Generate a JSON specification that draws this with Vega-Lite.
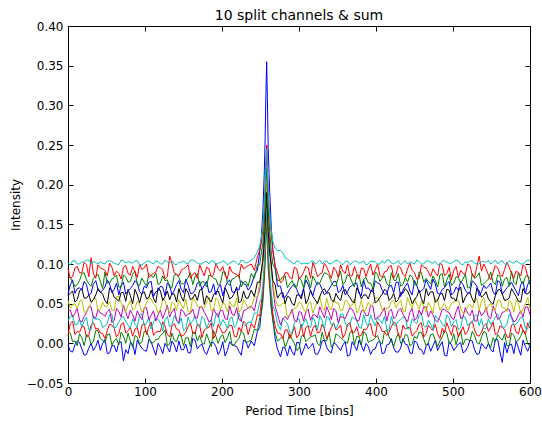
{
"$schema": "https://vega.github.io/schema/vega-lite/v6.json",
"width": 462, "height": 357,
"autosize": {"type": "none"},
"padding": {"left": 68, "top": 26, "right": 12, "bottom": 42},
"background": "white",
"title": {"text": "10 split channels & sum", "font": "DejaVu Sans", "fontSize": 14, "fontWeight": "normal", "color": "black", "offset": -3, "anchor": "middle"},
"config": {
"view": {"stroke": "black", "strokeWidth": 1},
"font": "DejaVu Sans",
"axis": {"grid": false, "domain": false, "tickColor": "black", "tickSize": -5, "tickWidth": 1, "labelFont": "DejaVu Sans", "labelFontSize": 12, "labelColor": "black", "titleFont": "DejaVu Sans", "titleFontSize": 12, "titleFontWeight": "normal", "titleColor": "black", "labelOverlap": false}
},
"data": {"values": [
{"c":"a","x":0,"y":-0.002},{"c":"a","x":6,"y":-0.011},{"c":"a","x":12,"y":0.003},{"c":"a","x":18,"y":-0.007},{"c":"a","x":24,"y":-0.014},{"c":"a","x":30,"y":0},{"c":"a","x":36,"y":-0.004},{"c":"a","x":42,"y":-0.009},{"c":"a","x":48,"y":0.005},{"c":"a","x":54,"y":-0.012},{"c":"a","x":60,"y":-0.003},{"c":"a","x":66,"y":0.001},{"c":"a","x":72,"y":-0.022},{"c":"a","x":78,"y":-0.013},{"c":"a","x":84,"y":-0.001},{"c":"a","x":90,"y":0.004},{"c":"a","x":96,"y":-0.006},{"c":"a","x":102,"y":-0.01},{"c":"a","x":108,"y":0.002},{"c":"a","x":114,"y":-0.015},{"c":"a","x":120,"y":-0.005},{"c":"a","x":126,"y":0},{"c":"a","x":132,"y":-0.011},{"c":"a","x":138,"y":-0.002},{"c":"a","x":144,"y":0.003},{"c":"a","x":150,"y":-0.008},{"c":"a","x":156,"y":-0.012},{"c":"a","x":162,"y":0.006},{"c":"a","x":168,"y":-0.007},{"c":"a","x":174,"y":-0.001},{"c":"a","x":180,"y":-0.014},{"c":"a","x":186,"y":0.001},{"c":"a","x":192,"y":-0.004},{"c":"a","x":198,"y":-0.009},{"c":"a","x":204,"y":-0.016},{"c":"a","x":210,"y":0.002},{"c":"a","x":216,"y":-0.003},{"c":"a","x":222,"y":-0.01},{"c":"a","x":228,"y":0.004},{"c":"a","x":234,"y":-0.006},
{"c":"a","x":238,"y":0.003},{"c":"a","x":242,"y":-0.003},{"c":"a","x":246,"y":0.015},{"c":"a","x":249,"y":0.02},{"c":"a","x":251,"y":0.039},{"c":"a","x":253,"y":0.058},{"c":"a","x":255,"y":0.094},{"c":"a","x":256,"y":0.12},{"c":"a","x":257,"y":0.157},{"c":"a","x":258,"y":0.185},{"c":"a","x":259,"y":0.151},{"c":"a","x":260,"y":0.113},{"c":"a","x":262,"y":0.077},{"c":"a","x":264,"y":0.045},{"c":"a","x":266,"y":0.032},{"c":"a","x":269,"y":0.006},{"c":"a","x":272,"y":-0.007},
{"c":"a","x":276,"y":-0.017},{"c":"a","x":282,"y":-0.006},{"c":"a","x":288,"y":-0.003},{"c":"a","x":294,"y":-0.015},{"c":"a","x":300,"y":0.001},{"c":"a","x":306,"y":-0.008},{"c":"a","x":312,"y":-0.007},{"c":"a","x":318,"y":0},{"c":"a","x":324,"y":-0.014},{"c":"a","x":330,"y":0.003},{"c":"a","x":336,"y":-0.005},{"c":"a","x":342,"y":-0.012},{"c":"a","x":348,"y":-0.001},{"c":"a","x":354,"y":-0.009},{"c":"a","x":360,"y":0.002},{"c":"a","x":366,"y":-0.015},{"c":"a","x":372,"y":-0.003},{"c":"a","x":378,"y":0.004},{"c":"a","x":384,"y":-0.01},{"c":"a","x":390,"y":-0.004},{"c":"a","x":396,"y":-0.008},{"c":"a","x":402,"y":0.001},{"c":"a","x":408,"y":-0.013},{"c":"a","x":414,"y":-0.002},{"c":"a","x":420,"y":0.006},{"c":"a","x":426,"y":-0.011},{"c":"a","x":432,"y":-0.006},{"c":"a","x":438,"y":-0.001},{"c":"a","x":444,"y":-0.012},{"c":"a","x":450,"y":0.003},{"c":"a","x":456,"y":-0.007},{"c":"a","x":462,"y":-0.014},{"c":"a","x":468,"y":0},{"c":"a","x":474,"y":-0.003},{"c":"a","x":480,"y":-0.009},{"c":"a","x":486,"y":0.002},{"c":"a","x":492,"y":-0.016},{"c":"a","x":498,"y":-0.002},{"c":"a","x":504,"y":-0.005},{"c":"a","x":510,"y":0.001},{"c":"a","x":516,"y":-0.01},{"c":"a","x":522,"y":0.004},{"c":"a","x":528,"y":-0.008},{"c":"a","x":534,"y":-0.013},{"c":"a","x":540,"y":-0.004},{"c":"a","x":546,"y":0},{"c":"a","x":552,"y":-0.011},{"c":"a","x":558,"y":0.005},{"c":"a","x":564,"y":-0.024},{"c":"a","x":570,"y":-0.012},{"c":"a","x":576,"y":-0.001},{"c":"a","x":582,"y":0.003},{"c":"a","x":588,"y":-0.015},{"c":"a","x":594,"y":-0.004},{"c":"a","x":600,"y":-0.002},
{"c":"a","x":3,"y":-0.01},{"c":"a","x":9,"y":-0.002},{"c":"a","x":15,"y":0.001},{"c":"a","x":21,"y":-0.015},{"c":"a","x":27,"y":-0.006},{"c":"a","x":33,"y":-0.009},{"c":"a","x":39,"y":0.004},{"c":"a","x":45,"y":0},{"c":"a","x":51,"y":-0.013},{"c":"a","x":57,"y":-0.003},{"c":"a","x":63,"y":-0.011},{"c":"a","x":69,"y":0.002},{"c":"a","x":75,"y":-0.008},{"c":"a","x":81,"y":0.001},{"c":"a","x":87,"y":-0.014},{"c":"a","x":93,"y":-0.002},{"c":"a","x":99,"y":-0.009},{"c":"a","x":105,"y":0.005},{"c":"a","x":111,"y":-0.007},{"c":"a","x":117,"y":0},{"c":"a","x":123,"y":-0.013},{"c":"a","x":129,"y":-0.005},{"c":"a","x":135,"y":0.003},{"c":"a","x":141,"y":-0.011},{"c":"a","x":147,"y":-0.008},{"c":"a","x":153,"y":-0.001},{"c":"a","x":159,"y":-0.012},{"c":"a","x":165,"y":0.004},{"c":"a","x":171,"y":-0.003},{"c":"a","x":177,"y":-0.01},{"c":"a","x":183,"y":-0.006},{"c":"a","x":189,"y":0.001},{"c":"a","x":195,"y":-0.014},{"c":"a","x":201,"y":0.002},{"c":"a","x":207,"y":-0.009},{"c":"a","x":213,"y":-0.002},{"c":"a","x":219,"y":-0.004},{"c":"a","x":225,"y":-0.015},{"c":"a","x":231,"y":0.003},
{"c":"a","x":279,"y":-0.005},{"c":"a","x":285,"y":-0.016},{"c":"a","x":291,"y":-0.011},{"c":"a","x":297,"y":0.001},{"c":"a","x":303,"y":-0.015},{"c":"a","x":309,"y":0},{"c":"a","x":315,"y":-0.004},{"c":"a","x":321,"y":-0.013},{"c":"a","x":327,"y":-0.008},{"c":"a","x":333,"y":0.004},{"c":"a","x":339,"y":-0.01},{"c":"a","x":345,"y":0.001},{"c":"a","x":351,"y":-0.005},{"c":"a","x":357,"y":-0.002},{"c":"a","x":363,"y":-0.016},{"c":"a","x":369,"y":0.002},{"c":"a","x":375,"y":-0.009},{"c":"a","x":381,"y":-0.003},{"c":"a","x":387,"y":0},{"c":"a","x":393,"y":-0.014},{"c":"a","x":399,"y":-0.007},{"c":"a","x":405,"y":0.003},{"c":"a","x":411,"y":-0.012},{"c":"a","x":417,"y":-0.001},{"c":"a","x":423,"y":-0.006},{"c":"a","x":429,"y":-0.011},{"c":"a","x":435,"y":0.006},{"c":"a","x":441,"y":-0.002},{"c":"a","x":447,"y":-0.013},{"c":"a","x":453,"y":0.001},{"c":"a","x":459,"y":-0.008},{"c":"a","x":465,"y":-0.004},{"c":"a","x":471,"y":-0.01},{"c":"a","x":477,"y":0.004},{"c":"a","x":483,"y":-0.003},{"c":"a","x":489,"y":-0.015},{"c":"a","x":495,"y":0.002},{"c":"a","x":501,"y":-0.009},{"c":"a","x":507,"y":-0.001},{"c":"a","x":513,"y":-0.012},{"c":"a","x":519,"y":-0.005},{"c":"a","x":525,"y":0.003},{"c":"a","x":531,"y":-0.014},{"c":"a","x":537,"y":0},{"c":"a","x":543,"y":-0.007},{"c":"a","x":549,"y":-0.008},{"c":"a","x":555,"y":0.005},{"c":"a","x":561,"y":-0.011},{"c":"a","x":567,"y":0.001},{"c":"a","x":573,"y":-0.002},{"c":"a","x":579,"y":-0.013},{"c":"a","x":585,"y":-0.006},{"c":"a","x":591,"y":0.004},{"c":"a","x":597,"y":-0.01},
{"c":"b","x":0,"y":0.014},{"c":"b","x":6,"y":0.002},{"c":"b","x":12,"y":-0.003},{"c":"b","x":18,"y":0.007},{"c":"b","x":24,"y":0.011},{"c":"b","x":30,"y":-0.001},{"c":"b","x":36,"y":0.016},{"c":"b","x":42,"y":0.006},{"c":"b","x":48,"y":0.001},{"c":"b","x":54,"y":0.012},{"c":"b","x":60,"y":0.003},{"c":"b","x":66,"y":-0.002},{"c":"b","x":72,"y":0.009},{"c":"b","x":78,"y":0.013},{"c":"b","x":84,"y":-0.005},{"c":"b","x":90,"y":0.008},{"c":"b","x":96,"y":0.002},{"c":"b","x":102,"y":0.015},{"c":"b","x":108,"y":0},{"c":"b","x":114,"y":0.005},{"c":"b","x":120,"y":0.01},{"c":"b","x":126,"y":0.017},{"c":"b","x":132,"y":-0.001},{"c":"b","x":138,"y":0.004},{"c":"b","x":144,"y":0.011},{"c":"b","x":150,"y":-0.003},{"c":"b","x":156,"y":0.007},{"c":"b","x":162,"y":0.014},{"c":"b","x":168,"y":0.003},{"c":"b","x":174,"y":0},{"c":"b","x":180,"y":0.012},{"c":"b","x":186,"y":-0.004},{"c":"b","x":192,"y":0.009},{"c":"b","x":198,"y":0.008},{"c":"b","x":204,"y":0.001},{"c":"b","x":210,"y":0.015},{"c":"b","x":216,"y":-0.002},{"c":"b","x":222,"y":0.006},{"c":"b","x":228,"y":0.013},{"c":"b","x":234,"y":0.002},
{"c":"b","x":238,"y":0.004},{"c":"b","x":242,"y":0.018},{"c":"b","x":246,"y":0.016},{"c":"b","x":249,"y":0.032},{"c":"b","x":251,"y":0.038},{"c":"b","x":253,"y":0.052},{"c":"b","x":255,"y":0.081},{"c":"b","x":256,"y":0.101},{"c":"b","x":257,"y":0.128},{"c":"b","x":258,"y":0.15},{"c":"b","x":259,"y":0.124},{"c":"b","x":260,"y":0.095},{"c":"b","x":262,"y":0.069},{"c":"b","x":264,"y":0.044},{"c":"b","x":266,"y":0.028},{"c":"b","x":269,"y":0.013},{"c":"b","x":272,"y":0.003},
{"c":"b","x":276,"y":0.006},{"c":"b","x":282,"y":-0.005},{"c":"b","x":288,"y":0.012},{"c":"b","x":294,"y":0},{"c":"b","x":300,"y":-0.007},{"c":"b","x":306,"y":0.011},{"c":"b","x":312,"y":0.005},{"c":"b","x":318,"y":0.009},{"c":"b","x":324,"y":0},{"c":"b","x":330,"y":0.014},{"c":"b","x":336,"y":0.003},{"c":"b","x":342,"y":-0.005},{"c":"b","x":348,"y":0.012},{"c":"b","x":354,"y":0.007},{"c":"b","x":360,"y":0.002},{"c":"b","x":366,"y":0.013},{"c":"b","x":372,"y":-0.002},{"c":"b","x":378,"y":0.008},{"c":"b","x":384,"y":0.015},{"c":"b","x":390,"y":0.001},{"c":"b","x":396,"y":0.004},{"c":"b","x":402,"y":0.01},{"c":"b","x":408,"y":-0.001},{"c":"b","x":414,"y":0.017},{"c":"b","x":420,"y":0.003},{"c":"b","x":426,"y":0.006},{"c":"b","x":432,"y":0},{"c":"b","x":438,"y":0.011},{"c":"b","x":444,"y":-0.003},{"c":"b","x":450,"y":0.009},{"c":"b","x":456,"y":0.014},{"c":"b","x":462,"y":0.005},{"c":"b","x":468,"y":0.001},{"c":"b","x":474,"y":0.012},{"c":"b","x":480,"y":-0.004},{"c":"b","x":486,"y":0.008},{"c":"b","x":492,"y":0.013},{"c":"b","x":498,"y":0.002},{"c":"b","x":504,"y":-0.002},{"c":"b","x":510,"y":0.016},{"c":"b","x":516,"y":0.005},{"c":"b","x":522,"y":0.003},{"c":"b","x":528,"y":0.01},{"c":"b","x":534,"y":-0.001},{"c":"b","x":540,"y":0.015},{"c":"b","x":546,"y":0},{"c":"b","x":552,"y":0.007},{"c":"b","x":558,"y":0.011},{"c":"b","x":564,"y":0.004},{"c":"b","x":570,"y":-0.003},{"c":"b","x":576,"y":0.013},{"c":"b","x":582,"y":0.002},{"c":"b","x":588,"y":0.009},{"c":"b","x":594,"y":0.012},{"c":"b","x":600,"y":-0.002},
{"c":"b","x":3,"y":0.013},{"c":"b","x":9,"y":0.003},{"c":"b","x":15,"y":0.012},{"c":"b","x":21,"y":-0.003},{"c":"b","x":27,"y":0.009},{"c":"b","x":33,"y":0.002},{"c":"b","x":39,"y":0.016},{"c":"b","x":45,"y":0.004},{"c":"b","x":51,"y":0.011},{"c":"b","x":57,"y":-0.002},{"c":"b","x":63,"y":0.006},{"c":"b","x":69,"y":0.014},{"c":"b","x":75,"y":0},{"c":"b","x":81,"y":0.003},{"c":"b","x":87,"y":0.01},{"c":"b","x":93,"y":-0.001},{"c":"b","x":99,"y":0.015},{"c":"b","x":105,"y":0.008},{"c":"b","x":111,"y":0.001},{"c":"b","x":117,"y":0.005},{"c":"b","x":123,"y":0.012},{"c":"b","x":129,"y":-0.003},{"c":"b","x":135,"y":0.013},{"c":"b","x":141,"y":0.002},{"c":"b","x":147,"y":0.009},{"c":"b","x":153,"y":0.007},{"c":"b","x":159,"y":-0.004},{"c":"b","x":165,"y":0.014},{"c":"b","x":171,"y":0.01},{"c":"b","x":177,"y":-0.001},{"c":"b","x":183,"y":0.004},{"c":"b","x":189,"y":0.016},{"c":"b","x":195,"y":0},{"c":"b","x":201,"y":0.011},{"c":"b","x":207,"y":0.007},{"c":"b","x":213,"y":-0.002},{"c":"b","x":219,"y":0.003},{"c":"b","x":225,"y":0.015},{"c":"b","x":231,"y":0.001},
{"c":"b","x":279,"y":0.008},{"c":"b","x":285,"y":0.002},{"c":"b","x":291,"y":0.005},{"c":"b","x":297,"y":-0.009},{"c":"b","x":303,"y":0.009},{"c":"b","x":309,"y":0.002},{"c":"b","x":315,"y":0.008},{"c":"b","x":321,"y":0.011},{"c":"b","x":327,"y":-0.003},{"c":"b","x":333,"y":0.004},{"c":"b","x":339,"y":0.014},{"c":"b","x":345,"y":-0.001},{"c":"b","x":351,"y":0.01},{"c":"b","x":357,"y":0.005},{"c":"b","x":363,"y":0},{"c":"b","x":369,"y":0.017},{"c":"b","x":375,"y":0.009},{"c":"b","x":381,"y":-0.002},{"c":"b","x":387,"y":0.012},{"c":"b","x":393,"y":0.003},{"c":"b","x":399,"y":0.007},{"c":"b","x":405,"y":0.001},{"c":"b","x":411,"y":0.015},{"c":"b","x":417,"y":0.008},{"c":"b","x":423,"y":-0.004},{"c":"b","x":429,"y":0.013},{"c":"b","x":435,"y":0.002},{"c":"b","x":441,"y":0.01},{"c":"b","x":447,"y":-0.001},{"c":"b","x":453,"y":0.006},{"c":"b","x":459,"y":0.014},{"c":"b","x":465,"y":-0.003},{"c":"b","x":471,"y":0.011},{"c":"b","x":477,"y":0.004},{"c":"b","x":483,"y":0.003},{"c":"b","x":489,"y":0.016},{"c":"b","x":495,"y":0},{"c":"b","x":501,"y":0.012},{"c":"b","x":507,"y":0.009},{"c":"b","x":513,"y":-0.002},{"c":"b","x":519,"y":0.005},{"c":"b","x":525,"y":0.015},{"c":"b","x":531,"y":0.001},{"c":"b","x":537,"y":0.008},{"c":"b","x":543,"y":0.013},{"c":"b","x":549,"y":-0.005},{"c":"b","x":555,"y":0.002},{"c":"b","x":561,"y":0.007},{"c":"b","x":567,"y":0.012},{"c":"b","x":573,"y":-0.003},{"c":"b","x":579,"y":0.01},{"c":"b","x":585,"y":0.004},{"c":"b","x":591,"y":0.017},{"c":"b","x":597,"y":-0.001},
{"c":"c","x":0,"y":0.01},{"c":"c","x":6,"y":0.028},{"c":"c","x":12,"y":0.015},{"c":"c","x":18,"y":0.021},{"c":"c","x":24,"y":0.008},{"c":"c","x":30,"y":0.023},{"c":"c","x":36,"y":0.018},{"c":"c","x":42,"y":0.013},{"c":"c","x":48,"y":0.006},{"c":"c","x":54,"y":0.024},{"c":"c","x":60,"y":0.019},{"c":"c","x":66,"y":0.012},{"c":"c","x":72,"y":0.026},{"c":"c","x":78,"y":0.016},{"c":"c","x":84,"y":0.009},{"c":"c","x":90,"y":0.02},{"c":"c","x":96,"y":0.023},{"c":"c","x":102,"y":0.011},{"c":"c","x":108,"y":0.027},{"c":"c","x":114,"y":0.014},{"c":"c","x":120,"y":0.015},{"c":"c","x":126,"y":0.022},{"c":"c","x":132,"y":0.008},{"c":"c","x":138,"y":0.025},{"c":"c","x":144,"y":0.017},{"c":"c","x":150,"y":0.01},{"c":"c","x":156,"y":0.021},{"c":"c","x":162,"y":0.013},{"c":"c","x":168,"y":0.024},{"c":"c","x":174,"y":0.007},{"c":"c","x":180,"y":0.019},{"c":"c","x":186,"y":0.026},{"c":"c","x":192,"y":0.012},{"c":"c","x":198,"y":0.018},{"c":"c","x":204,"y":0.014},{"c":"c","x":210,"y":0.023},{"c":"c","x":216,"y":0.009},{"c":"c","x":222,"y":0.02},{"c":"c","x":228,"y":0.028},{"c":"c","x":234,"y":0.011},
{"c":"c","x":238,"y":0.025},{"c":"c","x":242,"y":0.019},{"c":"c","x":246,"y":0.036},{"c":"c","x":249,"y":0.035},{"c":"c","x":251,"y":0.051},{"c":"c","x":253,"y":0.064},{"c":"c","x":255,"y":0.091},{"c":"c","x":256,"y":0.111},{"c":"c","x":257,"y":0.139},{"c":"c","x":258,"y":0.16},{"c":"c","x":259,"y":0.134},{"c":"c","x":260,"y":0.106},{"c":"c","x":262,"y":0.075},{"c":"c","x":264,"y":0.06},{"c":"c","x":266,"y":0.038},{"c":"c","x":269,"y":0.022},{"c":"c","x":272,"y":0.013},
{"c":"c","x":276,"y":0.012},{"c":"c","x":282,"y":0.017},{"c":"c","x":288,"y":0.006},{"c":"c","x":294,"y":0.021},{"c":"c","x":300,"y":0.011},{"c":"c","x":306,"y":0.008},{"c":"c","x":312,"y":0.022},{"c":"c","x":318,"y":0.019},{"c":"c","x":324,"y":0.013},{"c":"c","x":330,"y":0.024},{"c":"c","x":336,"y":0.006},{"c":"c","x":342,"y":0.02},{"c":"c","x":348,"y":0.017},{"c":"c","x":354,"y":0.023},{"c":"c","x":360,"y":0.012},{"c":"c","x":366,"y":0.026},{"c":"c","x":372,"y":0.014},{"c":"c","x":378,"y":0.009},{"c":"c","x":384,"y":0.018},{"c":"c","x":390,"y":0.022},{"c":"c","x":396,"y":0.011},{"c":"c","x":402,"y":0.027},{"c":"c","x":408,"y":0.015},{"c":"c","x":414,"y":0.01},{"c":"c","x":420,"y":0.021},{"c":"c","x":426,"y":0.025},{"c":"c","x":432,"y":0.007},{"c":"c","x":438,"y":0.018},{"c":"c","x":444,"y":0.02},{"c":"c","x":450,"y":0.013},{"c":"c","x":456,"y":0.024},{"c":"c","x":462,"y":0.008},{"c":"c","x":468,"y":0.023},{"c":"c","x":474,"y":0.016},{"c":"c","x":480,"y":0.012},{"c":"c","x":486,"y":0.019},{"c":"c","x":492,"y":0.026},{"c":"c","x":498,"y":0.01},{"c":"c","x":504,"y":0.021},{"c":"c","x":510,"y":0.014},{"c":"c","x":516,"y":0.011},{"c":"c","x":522,"y":0.025},{"c":"c","x":528,"y":0.017},{"c":"c","x":534,"y":0.009},{"c":"c","x":540,"y":0.022},{"c":"c","x":546,"y":0.015},{"c":"c","x":552,"y":0.027},{"c":"c","x":558,"y":0.013},{"c":"c","x":564,"y":0.02},{"c":"c","x":570,"y":0.008},{"c":"c","x":576,"y":0.023},{"c":"c","x":582,"y":0.014},{"c":"c","x":588,"y":0.024},{"c":"c","x":594,"y":0.011},{"c":"c","x":600,"y":0.019},
{"c":"c","x":3,"y":0.025},{"c":"c","x":9,"y":0.011},{"c":"c","x":15,"y":0.014},{"c":"c","x":21,"y":0.021},{"c":"c","x":27,"y":0.01},{"c":"c","x":33,"y":0.026},{"c":"c","x":39,"y":0.019},{"c":"c","x":45,"y":0.012},{"c":"c","x":51,"y":0.016},{"c":"c","x":57,"y":0.023},{"c":"c","x":63,"y":0.008},{"c":"c","x":69,"y":0.024},{"c":"c","x":75,"y":0.013},{"c":"c","x":81,"y":0.02},{"c":"c","x":87,"y":0.018},{"c":"c","x":93,"y":0.007},{"c":"c","x":99,"y":0.025},{"c":"c","x":105,"y":0.021},{"c":"c","x":111,"y":0.01},{"c":"c","x":117,"y":0.015},{"c":"c","x":123,"y":0.027},{"c":"c","x":129,"y":0.011},{"c":"c","x":135,"y":0.022},{"c":"c","x":141,"y":0.018},{"c":"c","x":147,"y":0.009},{"c":"c","x":153,"y":0.014},{"c":"c","x":159,"y":0.026},{"c":"c","x":165,"y":0.012},{"c":"c","x":171,"y":0.023},{"c":"c","x":177,"y":0.017},{"c":"c","x":183,"y":0.02},{"c":"c","x":189,"y":0.006},{"c":"c","x":195,"y":0.024},{"c":"c","x":201,"y":0.013},{"c":"c","x":207,"y":0.019},{"c":"c","x":213,"y":0.022},{"c":"c","x":219,"y":0.008},{"c":"c","x":225,"y":0.015},{"c":"c","x":231,"y":0.025},
{"c":"c","x":279,"y":0.006},{"c":"c","x":285,"y":0.017},{"c":"c","x":291,"y":0.012},{"c":"c","x":297,"y":0.007},{"c":"c","x":303,"y":0.024},{"c":"c","x":309,"y":0.02},{"c":"c","x":315,"y":0.009},{"c":"c","x":321,"y":0.023},{"c":"c","x":327,"y":0.014},{"c":"c","x":333,"y":0.018},{"c":"c","x":339,"y":0.012},{"c":"c","x":345,"y":0.026},{"c":"c","x":351,"y":0.019},{"c":"c","x":357,"y":0.007},{"c":"c","x":363,"y":0.024},{"c":"c","x":369,"y":0.013},{"c":"c","x":375,"y":0.021},{"c":"c","x":381,"y":0.01},{"c":"c","x":387,"y":0.017},{"c":"c","x":393,"y":0.025},{"c":"c","x":399,"y":0.008},{"c":"c","x":405,"y":0.022},{"c":"c","x":411,"y":0.015},{"c":"c","x":417,"y":0.014},{"c":"c","x":423,"y":0.027},{"c":"c","x":429,"y":0.011},{"c":"c","x":435,"y":0.023},{"c":"c","x":441,"y":0.02},{"c":"c","x":447,"y":0.009},{"c":"c","x":453,"y":0.016},{"c":"c","x":459,"y":0.026},{"c":"c","x":465,"y":0.012},{"c":"c","x":471,"y":0.019},{"c":"c","x":477,"y":0.024},{"c":"c","x":483,"y":0.006},{"c":"c","x":489,"y":0.013},{"c":"c","x":495,"y":0.018},{"c":"c","x":501,"y":0.023},{"c":"c","x":507,"y":0.008},{"c":"c","x":513,"y":0.021},{"c":"c","x":519,"y":0.015},{"c":"c","x":525,"y":0.028},{"c":"c","x":531,"y":0.01},{"c":"c","x":537,"y":0.014},{"c":"c","x":543,"y":0.025},{"c":"c","x":549,"y":0.02},{"c":"c","x":555,"y":0.011},{"c":"c","x":561,"y":0.022},{"c":"c","x":567,"y":0.017},{"c":"c","x":573,"y":0.007},{"c":"c","x":579,"y":0.024},{"c":"c","x":585,"y":0.012},{"c":"c","x":591,"y":0.016},{"c":"c","x":597,"y":0.026},
{"c":"d","x":0,"y":0.028},{"c":"d","x":6,"y":0.035},{"c":"d","x":12,"y":0.024},{"c":"d","x":18,"y":0.021},{"c":"d","x":24,"y":0.033},{"c":"d","x":30,"y":0.017},{"c":"d","x":36,"y":0.03},{"c":"d","x":42,"y":0.029},{"c":"d","x":48,"y":0.022},{"c":"d","x":54,"y":0.036},{"c":"d","x":60,"y":0.019},{"c":"d","x":66,"y":0.027},{"c":"d","x":72,"y":0.034},{"c":"d","x":78,"y":0.023},{"c":"d","x":84,"y":0.031},{"c":"d","x":90,"y":0.02},{"c":"d","x":96,"y":0.037},{"c":"d","x":102,"y":0.025},{"c":"d","x":108,"y":0.018},{"c":"d","x":114,"y":0.032},{"c":"d","x":120,"y":0.026},{"c":"d","x":126,"y":0.03},{"c":"d","x":132,"y":0.021},{"c":"d","x":138,"y":0.035},{"c":"d","x":144,"y":0.024},{"c":"d","x":150,"y":0.016},{"c":"d","x":156,"y":0.033},{"c":"d","x":162,"y":0.028},{"c":"d","x":168,"y":0.023},{"c":"d","x":174,"y":0.034},{"c":"d","x":180,"y":0.019},{"c":"d","x":186,"y":0.029},{"c":"d","x":192,"y":0.036},{"c":"d","x":198,"y":0.022},{"c":"d","x":204,"y":0.025},{"c":"d","x":210,"y":0.031},{"c":"d","x":216,"y":0.02},{"c":"d","x":222,"y":0.038},{"c":"d","x":228,"y":0.024},{"c":"d","x":234,"y":0.027},
{"c":"d","x":238,"y":0.026},{"c":"d","x":242,"y":0.038},{"c":"d","x":246,"y":0.038},{"c":"d","x":249,"y":0.052},{"c":"d","x":251,"y":0.056},{"c":"d","x":253,"y":0.074},{"c":"d","x":255,"y":0.101},{"c":"d","x":256,"y":0.121},{"c":"d","x":257,"y":0.149},{"c":"d","x":258,"y":0.17},{"c":"d","x":259,"y":0.144},{"c":"d","x":260,"y":0.116},{"c":"d","x":262,"y":0.089},{"c":"d","x":264,"y":0.064},{"c":"d","x":266,"y":0.047},{"c":"d","x":269,"y":0.04},{"c":"d","x":272,"y":0.025},
{"c":"d","x":276,"y":0.017},{"c":"d","x":282,"y":0.028},{"c":"d","x":288,"y":0.014},{"c":"d","x":294,"y":0.026},{"c":"d","x":300,"y":0.031},{"c":"d","x":306,"y":0.026},{"c":"d","x":312,"y":0.022},{"c":"d","x":318,"y":0.033},{"c":"d","x":324,"y":0.017},{"c":"d","x":330,"y":0.029},{"c":"d","x":336,"y":0.034},{"c":"d","x":342,"y":0.023},{"c":"d","x":348,"y":0.019},{"c":"d","x":354,"y":0.037},{"c":"d","x":360,"y":0.026},{"c":"d","x":366,"y":0.024},{"c":"d","x":372,"y":0.031},{"c":"d","x":378,"y":0.02},{"c":"d","x":384,"y":0.036},{"c":"d","x":390,"y":0.021},{"c":"d","x":396,"y":0.028},{"c":"d","x":402,"y":0.032},{"c":"d","x":408,"y":0.025},{"c":"d","x":414,"y":0.018},{"c":"d","x":420,"y":0.034},{"c":"d","x":426,"y":0.023},{"c":"d","x":432,"y":0.03},{"c":"d","x":438,"y":0.033},{"c":"d","x":444,"y":0.019},{"c":"d","x":450,"y":0.027},{"c":"d","x":456,"y":0.035},{"c":"d","x":462,"y":0.022},{"c":"d","x":468,"y":0.029},{"c":"d","x":474,"y":0.017},{"c":"d","x":480,"y":0.031},{"c":"d","x":486,"y":0.024},{"c":"d","x":492,"y":0.036},{"c":"d","x":498,"y":0.021},{"c":"d","x":504,"y":0.03},{"c":"d","x":510,"y":0.02},{"c":"d","x":516,"y":0.033},{"c":"d","x":522,"y":0.025},{"c":"d","x":528,"y":0.035},{"c":"d","x":534,"y":0.022},{"c":"d","x":540,"y":0.018},{"c":"d","x":546,"y":0.031},{"c":"d","x":552,"y":0.028},{"c":"d","x":558,"y":0.037},{"c":"d","x":564,"y":0.021},{"c":"d","x":570,"y":0.024},{"c":"d","x":576,"y":0.032},{"c":"d","x":582,"y":0.024},{"c":"d","x":588,"y":0.033},{"c":"d","x":594,"y":0.019},{"c":"d","x":600,"y":0.029},
{"c":"d","x":3,"y":0.034},{"c":"d","x":9,"y":0.023},{"c":"d","x":15,"y":0.03},{"c":"d","x":21,"y":0.028},{"c":"d","x":27,"y":0.017},{"c":"d","x":33,"y":0.035},{"c":"d","x":39,"y":0.031},{"c":"d","x":45,"y":0.02},{"c":"d","x":51,"y":0.025},{"c":"d","x":57,"y":0.037},{"c":"d","x":63,"y":0.021},{"c":"d","x":69,"y":0.032},{"c":"d","x":75,"y":0.028},{"c":"d","x":81,"y":0.019},{"c":"d","x":87,"y":0.024},{"c":"d","x":93,"y":0.036},{"c":"d","x":99,"y":0.022},{"c":"d","x":105,"y":0.033},{"c":"d","x":111,"y":0.027},{"c":"d","x":117,"y":0.03},{"c":"d","x":123,"y":0.016},{"c":"d","x":129,"y":0.034},{"c":"d","x":135,"y":0.023},{"c":"d","x":141,"y":0.029},{"c":"d","x":147,"y":0.032},{"c":"d","x":153,"y":0.018},{"c":"d","x":159,"y":0.025},{"c":"d","x":165,"y":0.035},{"c":"d","x":171,"y":0.02},{"c":"d","x":177,"y":0.031},{"c":"d","x":183,"y":0.026},{"c":"d","x":189,"y":0.021},{"c":"d","x":195,"y":0.038},{"c":"d","x":201,"y":0.03},{"c":"d","x":207,"y":0.019},{"c":"d","x":213,"y":0.033},{"c":"d","x":219,"y":0.024},{"c":"d","x":225,"y":0.028},{"c":"d","x":231,"y":0.022},
{"c":"d","x":279,"y":0.032},{"c":"d","x":285,"y":0.025},{"c":"d","x":291,"y":0.013},{"c":"d","x":297,"y":0.03},{"c":"d","x":303,"y":0.019},{"c":"d","x":309,"y":0.031},{"c":"d","x":315,"y":0.02},{"c":"d","x":321,"y":0.027},{"c":"d","x":327,"y":0.035},{"c":"d","x":333,"y":0.018},{"c":"d","x":339,"y":0.032},{"c":"d","x":345,"y":0.025},{"c":"d","x":351,"y":0.024},{"c":"d","x":357,"y":0.037},{"c":"d","x":363,"y":0.021},{"c":"d","x":369,"y":0.033},{"c":"d","x":375,"y":0.03},{"c":"d","x":381,"y":0.019},{"c":"d","x":387,"y":0.026},{"c":"d","x":393,"y":0.036},{"c":"d","x":399,"y":0.022},{"c":"d","x":405,"y":0.029},{"c":"d","x":411,"y":0.034},{"c":"d","x":417,"y":0.016},{"c":"d","x":423,"y":0.023},{"c":"d","x":429,"y":0.028},{"c":"d","x":435,"y":0.033},{"c":"d","x":441,"y":0.018},{"c":"d","x":447,"y":0.031},{"c":"d","x":453,"y":0.025},{"c":"d","x":459,"y":0.038},{"c":"d","x":465,"y":0.02},{"c":"d","x":471,"y":0.024},{"c":"d","x":477,"y":0.035},{"c":"d","x":483,"y":0.03},{"c":"d","x":489,"y":0.021},{"c":"d","x":495,"y":0.032},{"c":"d","x":501,"y":0.027},{"c":"d","x":507,"y":0.017},{"c":"d","x":513,"y":0.034},{"c":"d","x":519,"y":0.022},{"c":"d","x":525,"y":0.026},{"c":"d","x":531,"y":0.036},{"c":"d","x":537,"y":0.031},{"c":"d","x":543,"y":0.019},{"c":"d","x":549,"y":0.024},{"c":"d","x":555,"y":0.033},{"c":"d","x":561,"y":0.029},{"c":"d","x":567,"y":0.02},{"c":"d","x":573,"y":0.037},{"c":"d","x":579,"y":0.023},{"c":"d","x":585,"y":0.028},{"c":"d","x":591,"y":0.032},{"c":"d","x":597,"y":0.018},
{"c":"e","x":0,"y":0.041},{"c":"e","x":6,"y":0.033},{"c":"e","x":12,"y":0.044},{"c":"e","x":18,"y":0.027},{"c":"e","x":24,"y":0.039},{"c":"e","x":30,"y":0.046},{"c":"e","x":36,"y":0.032},{"c":"e","x":42,"y":0.038},{"c":"e","x":48,"y":0.034},{"c":"e","x":54,"y":0.043},{"c":"e","x":60,"y":0.029},{"c":"e","x":66,"y":0.04},{"c":"e","x":72,"y":0.048},{"c":"e","x":78,"y":0.031},{"c":"e","x":84,"y":0.036},{"c":"e","x":90,"y":0.041},{"c":"e","x":96,"y":0.03},{"c":"e","x":102,"y":0.045},{"c":"e","x":108,"y":0.035},{"c":"e","x":114,"y":0.028},{"c":"e","x":120,"y":0.042},{"c":"e","x":126,"y":0.039},{"c":"e","x":132,"y":0.033},{"c":"e","x":138,"y":0.044},{"c":"e","x":144,"y":0.026},{"c":"e","x":150,"y":0.04},{"c":"e","x":156,"y":0.037},{"c":"e","x":162,"y":0.043},{"c":"e","x":168,"y":0.032},{"c":"e","x":174,"y":0.046},{"c":"e","x":180,"y":0.034},{"c":"e","x":186,"y":0.029},{"c":"e","x":192,"y":0.038},{"c":"e","x":198,"y":0.042},{"c":"e","x":204,"y":0.031},{"c":"e","x":210,"y":0.047},{"c":"e","x":216,"y":0.035},{"c":"e","x":222,"y":0.03},{"c":"e","x":228,"y":0.041},{"c":"e","x":234,"y":0.045},
{"c":"e","x":238,"y":0.047},{"c":"e","x":242,"y":0.041},{"c":"e","x":246,"y":0.059},{"c":"e","x":249,"y":0.067},{"c":"e","x":251,"y":0.088},{"c":"e","x":253,"y":0.107},{"c":"e","x":255,"y":0.148},{"c":"e","x":256,"y":0.178},{"c":"e","x":257,"y":0.218},{"c":"e","x":258,"y":0.25},{"c":"e","x":259,"y":0.212},{"c":"e","x":260,"y":0.169},{"c":"e","x":262,"y":0.123},{"c":"e","x":264,"y":0.099},{"c":"e","x":266,"y":0.071},{"c":"e","x":269,"y":0.047},{"c":"e","x":272,"y":0.037},
{"c":"e","x":276,"y":0.023},{"c":"e","x":282,"y":0.034},{"c":"e","x":288,"y":0.036},{"c":"e","x":294,"y":0.029},{"c":"e","x":300,"y":0.04},{"c":"e","x":306,"y":0.028},{"c":"e","x":312,"y":0.043},{"c":"e","x":318,"y":0.036},{"c":"e","x":324,"y":0.032},{"c":"e","x":330,"y":0.039},{"c":"e","x":336,"y":0.046},{"c":"e","x":342,"y":0.03},{"c":"e","x":348,"y":0.041},{"c":"e","x":354,"y":0.034},{"c":"e","x":360,"y":0.031},{"c":"e","x":366,"y":0.045},{"c":"e","x":372,"y":0.037},{"c":"e","x":378,"y":0.029},{"c":"e","x":384,"y":0.042},{"c":"e","x":390,"y":0.035},{"c":"e","x":396,"y":0.047},{"c":"e","x":402,"y":0.033},{"c":"e","x":408,"y":0.04},{"c":"e","x":414,"y":0.028},{"c":"e","x":420,"y":0.043},{"c":"e","x":426,"y":0.034},{"c":"e","x":432,"y":0.044},{"c":"e","x":438,"y":0.031},{"c":"e","x":444,"y":0.039},{"c":"e","x":450,"y":0.029},{"c":"e","x":456,"y":0.042},{"c":"e","x":462,"y":0.046},{"c":"e","x":468,"y":0.033},{"c":"e","x":474,"y":0.036},{"c":"e","x":480,"y":0.027},{"c":"e","x":486,"y":0.043},{"c":"e","x":492,"y":0.04},{"c":"e","x":498,"y":0.032},{"c":"e","x":504,"y":0.04},{"c":"e","x":510,"y":0.031},{"c":"e","x":516,"y":0.045},{"c":"e","x":522,"y":0.035},{"c":"e","x":528,"y":0.028},{"c":"e","x":534,"y":0.042},{"c":"e","x":540,"y":0.038},{"c":"e","x":546,"y":0.033},{"c":"e","x":552,"y":0.047},{"c":"e","x":558,"y":0.03},{"c":"e","x":564,"y":0.039},{"c":"e","x":570,"y":0.043},{"c":"e","x":576,"y":0.034},{"c":"e","x":582,"y":0.029},{"c":"e","x":588,"y":0.041},{"c":"e","x":594,"y":0.046},{"c":"e","x":600,"y":0.036},
{"c":"e","x":3,"y":0.042},{"c":"e","x":9,"y":0.038},{"c":"e","x":15,"y":0.029},{"c":"e","x":21,"y":0.034},{"c":"e","x":27,"y":0.046},{"c":"e","x":33,"y":0.032},{"c":"e","x":39,"y":0.043},{"c":"e","x":45,"y":0.037},{"c":"e","x":51,"y":0.04},{"c":"e","x":57,"y":0.026},{"c":"e","x":63,"y":0.044},{"c":"e","x":69,"y":0.033},{"c":"e","x":75,"y":0.039},{"c":"e","x":81,"y":0.042},{"c":"e","x":87,"y":0.028},{"c":"e","x":93,"y":0.035},{"c":"e","x":99,"y":0.045},{"c":"e","x":105,"y":0.03},{"c":"e","x":111,"y":0.041},{"c":"e","x":117,"y":0.036},{"c":"e","x":123,"y":0.031},{"c":"e","x":129,"y":0.048},{"c":"e","x":135,"y":0.04},{"c":"e","x":141,"y":0.029},{"c":"e","x":147,"y":0.043},{"c":"e","x":153,"y":0.034},{"c":"e","x":159,"y":0.038},{"c":"e","x":165,"y":0.032},{"c":"e","x":171,"y":0.046},{"c":"e","x":177,"y":0.039},{"c":"e","x":183,"y":0.027},{"c":"e","x":189,"y":0.044},{"c":"e","x":195,"y":0.033},{"c":"e","x":201,"y":0.041},{"c":"e","x":207,"y":0.03},{"c":"e","x":213,"y":0.037},{"c":"e","x":219,"y":0.045},{"c":"e","x":225,"y":0.028},{"c":"e","x":231,"y":0.042},
{"c":"e","x":279,"y":0.031},{"c":"e","x":285,"y":0.03},{"c":"e","x":291,"y":0.043},{"c":"e","x":297,"y":0.027},{"c":"e","x":303,"y":0.039},{"c":"e","x":309,"y":0.04},{"c":"e","x":315,"y":0.029},{"c":"e","x":321,"y":0.036},{"c":"e","x":327,"y":0.046},{"c":"e","x":333,"y":0.032},{"c":"e","x":339,"y":0.039},{"c":"e","x":345,"y":0.044},{"c":"e","x":351,"y":0.026},{"c":"e","x":357,"y":0.033},{"c":"e","x":363,"y":0.038},{"c":"e","x":369,"y":0.043},{"c":"e","x":375,"y":0.028},{"c":"e","x":381,"y":0.041},{"c":"e","x":387,"y":0.035},{"c":"e","x":393,"y":0.048},{"c":"e","x":399,"y":0.03},{"c":"e","x":405,"y":0.034},{"c":"e","x":411,"y":0.045},{"c":"e","x":417,"y":0.04},{"c":"e","x":423,"y":0.031},{"c":"e","x":429,"y":0.042},{"c":"e","x":435,"y":0.037},{"c":"e","x":441,"y":0.027},{"c":"e","x":447,"y":0.044},{"c":"e","x":453,"y":0.032},{"c":"e","x":459,"y":0.036},{"c":"e","x":465,"y":0.046},{"c":"e","x":471,"y":0.041},{"c":"e","x":477,"y":0.029},{"c":"e","x":483,"y":0.034},{"c":"e","x":489,"y":0.043},{"c":"e","x":495,"y":0.039},{"c":"e","x":501,"y":0.03},{"c":"e","x":507,"y":0.047},{"c":"e","x":513,"y":0.033},{"c":"e","x":519,"y":0.038},{"c":"e","x":525,"y":0.042},{"c":"e","x":531,"y":0.028},{"c":"e","x":537,"y":0.035},{"c":"e","x":543,"y":0.045},{"c":"e","x":549,"y":0.031},{"c":"e","x":555,"y":0.04},{"c":"e","x":561,"y":0.032},{"c":"e","x":567,"y":0.04},{"c":"e","x":573,"y":0.043},{"c":"e","x":579,"y":0.027},{"c":"e","x":585,"y":0.036},{"c":"e","x":591,"y":0.033},{"c":"e","x":597,"y":0.046},
{"c":"f","x":0,"y":0.054},{"c":"f","x":6,"y":0.049},{"c":"f","x":12,"y":0.044},{"c":"f","x":18,"y":0.055},{"c":"f","x":24,"y":0.04},{"c":"f","x":30,"y":0.05},{"c":"f","x":36,"y":0.057},{"c":"f","x":42,"y":0.043},{"c":"f","x":48,"y":0.046},{"c":"f","x":54,"y":0.052},{"c":"f","x":60,"y":0.041},{"c":"f","x":66,"y":0.059},{"c":"f","x":72,"y":0.045},{"c":"f","x":78,"y":0.048},{"c":"f","x":84,"y":0.042},{"c":"f","x":90,"y":0.053},{"c":"f","x":96,"y":0.039},{"c":"f","x":102,"y":0.051},{"c":"f","x":108,"y":0.056},{"c":"f","x":114,"y":0.047},{"c":"f","x":120,"y":0.043},{"c":"f","x":126,"y":0.054},{"c":"f","x":132,"y":0.038},{"c":"f","x":138,"y":0.05},{"c":"f","x":144,"y":0.055},{"c":"f","x":150,"y":0.044},{"c":"f","x":156,"y":0.04},{"c":"f","x":162,"y":0.058},{"c":"f","x":168,"y":0.047},{"c":"f","x":174,"y":0.045},{"c":"f","x":180,"y":0.052},{"c":"f","x":186,"y":0.041},{"c":"f","x":192,"y":0.057},{"c":"f","x":198,"y":0.042},{"c":"f","x":204,"y":0.049},{"c":"f","x":210,"y":0.053},{"c":"f","x":216,"y":0.046},{"c":"f","x":222,"y":0.039},{"c":"f","x":228,"y":0.055},{"c":"f","x":234,"y":0.044},
{"c":"f","x":238,"y":0.045},{"c":"f","x":242,"y":0.058},{"c":"f","x":246,"y":0.059},{"c":"f","x":249,"y":0.076},{"c":"f","x":251,"y":0.081},{"c":"f","x":253,"y":0.098},{"c":"f","x":255,"y":0.127},{"c":"f","x":256,"y":0.148},{"c":"f","x":257,"y":0.177},{"c":"f","x":258,"y":0.2},{"c":"f","x":259,"y":0.173},{"c":"f","x":260,"y":0.142},{"c":"f","x":262,"y":0.114},{"c":"f","x":264,"y":0.089},{"c":"f","x":266,"y":0.078},{"c":"f","x":269,"y":0.055},{"c":"f","x":272,"y":0.048},
{"c":"f","x":276,"y":0.047},{"c":"f","x":282,"y":0.05},{"c":"f","x":288,"y":0.036},{"c":"f","x":294,"y":0.044},{"c":"f","x":300,"y":0.052},{"c":"f","x":306,"y":0.043},{"c":"f","x":312,"y":0.05},{"c":"f","x":318,"y":0.038},{"c":"f","x":324,"y":0.052},{"c":"f","x":330,"y":0.045},{"c":"f","x":336,"y":0.057},{"c":"f","x":342,"y":0.042},{"c":"f","x":348,"y":0.051},{"c":"f","x":354,"y":0.041},{"c":"f","x":360,"y":0.054},{"c":"f","x":366,"y":0.046},{"c":"f","x":372,"y":0.056},{"c":"f","x":378,"y":0.043},{"c":"f","x":384,"y":0.039},{"c":"f","x":390,"y":0.052},{"c":"f","x":396,"y":0.049},{"c":"f","x":402,"y":0.058},{"c":"f","x":408,"y":0.042},{"c":"f","x":414,"y":0.045},{"c":"f","x":420,"y":0.053},{"c":"f","x":426,"y":0.045},{"c":"f","x":432,"y":0.054},{"c":"f","x":438,"y":0.04},{"c":"f","x":444,"y":0.05},{"c":"f","x":450,"y":0.057},{"c":"f","x":456,"y":0.043},{"c":"f","x":462,"y":0.047},{"c":"f","x":468,"y":0.052},{"c":"f","x":474,"y":0.038},{"c":"f","x":480,"y":0.055},{"c":"f","x":486,"y":0.046},{"c":"f","x":492,"y":0.042},{"c":"f","x":498,"y":0.051},{"c":"f","x":504,"y":0.056},{"c":"f","x":510,"y":0.044},{"c":"f","x":516,"y":0.039},{"c":"f","x":522,"y":0.049},{"c":"f","x":528,"y":0.053},{"c":"f","x":534,"y":0.041},{"c":"f","x":540,"y":0.058},{"c":"f","x":546,"y":0.048},{"c":"f","x":552,"y":0.043},{"c":"f","x":558,"y":0.054},{"c":"f","x":564,"y":0.045},{"c":"f","x":570,"y":0.04},{"c":"f","x":576,"y":0.051},{"c":"f","x":582,"y":0.055},{"c":"f","x":588,"y":0.037},{"c":"f","x":594,"y":0.05},{"c":"f","x":600,"y":0.044},
{"c":"f","x":3,"y":0.044},{"c":"f","x":9,"y":0.05},{"c":"f","x":15,"y":0.053},{"c":"f","x":21,"y":0.039},{"c":"f","x":27,"y":0.046},{"c":"f","x":33,"y":0.056},{"c":"f","x":39,"y":0.041},{"c":"f","x":45,"y":0.052},{"c":"f","x":51,"y":0.047},{"c":"f","x":57,"y":0.042},{"c":"f","x":63,"y":0.059},{"c":"f","x":69,"y":0.051},{"c":"f","x":75,"y":0.04},{"c":"f","x":81,"y":0.054},{"c":"f","x":87,"y":0.045},{"c":"f","x":93,"y":0.049},{"c":"f","x":99,"y":0.043},{"c":"f","x":105,"y":0.057},{"c":"f","x":111,"y":0.05},{"c":"f","x":117,"y":0.038},{"c":"f","x":123,"y":0.055},{"c":"f","x":129,"y":0.044},{"c":"f","x":135,"y":0.052},{"c":"f","x":141,"y":0.041},{"c":"f","x":147,"y":0.048},{"c":"f","x":153,"y":0.056},{"c":"f","x":159,"y":0.039},{"c":"f","x":165,"y":0.053},{"c":"f","x":171,"y":0.046},{"c":"f","x":177,"y":0.045},{"c":"f","x":183,"y":0.058},{"c":"f","x":189,"y":0.042},{"c":"f","x":195,"y":0.054},{"c":"f","x":201,"y":0.051},{"c":"f","x":207,"y":0.04},{"c":"f","x":213,"y":0.047},{"c":"f","x":219,"y":0.057},{"c":"f","x":225,"y":0.043},{"c":"f","x":231,"y":0.05},
{"c":"f","x":279,"y":0.051},{"c":"f","x":285,"y":0.033},{"c":"f","x":291,"y":0.04},{"c":"f","x":297,"y":0.045},{"c":"f","x":303,"y":0.05},{"c":"f","x":309,"y":0.039},{"c":"f","x":315,"y":0.052},{"c":"f","x":321,"y":0.046},{"c":"f","x":327,"y":0.059},{"c":"f","x":333,"y":0.041},{"c":"f","x":339,"y":0.045},{"c":"f","x":345,"y":0.056},{"c":"f","x":351,"y":0.051},{"c":"f","x":357,"y":0.042},{"c":"f","x":363,"y":0.053},{"c":"f","x":369,"y":0.048},{"c":"f","x":375,"y":0.038},{"c":"f","x":381,"y":0.055},{"c":"f","x":387,"y":0.043},{"c":"f","x":393,"y":0.047},{"c":"f","x":399,"y":0.057},{"c":"f","x":405,"y":0.052},{"c":"f","x":411,"y":0.04},{"c":"f","x":417,"y":0.045},{"c":"f","x":423,"y":0.054},{"c":"f","x":429,"y":0.05},{"c":"f","x":435,"y":0.041},{"c":"f","x":441,"y":0.058},{"c":"f","x":447,"y":0.044},{"c":"f","x":453,"y":0.049},{"c":"f","x":459,"y":0.053},{"c":"f","x":465,"y":0.039},{"c":"f","x":471,"y":0.046},{"c":"f","x":477,"y":0.056},{"c":"f","x":483,"y":0.042},{"c":"f","x":489,"y":0.051},{"c":"f","x":495,"y":0.043},{"c":"f","x":501,"y":0.051},{"c":"f","x":507,"y":0.054},{"c":"f","x":513,"y":0.038},{"c":"f","x":519,"y":0.047},{"c":"f","x":525,"y":0.044},{"c":"f","x":531,"y":0.057},{"c":"f","x":537,"y":0.053},{"c":"f","x":543,"y":0.04},{"c":"f","x":549,"y":0.05},{"c":"f","x":555,"y":0.042},{"c":"f","x":561,"y":0.055},{"c":"f","x":567,"y":0.045},{"c":"f","x":573,"y":0.054},{"c":"f","x":579,"y":0.039},{"c":"f","x":585,"y":0.051},{"c":"f","x":591,"y":0.044},{"c":"f","x":597,"y":0.058},
{"c":"g","x":0,"y":0.06},{"c":"g","x":6,"y":0.066},{"c":"g","x":12,"y":0.055},{"c":"g","x":18,"y":0.069},{"c":"g","x":24,"y":0.057},{"c":"g","x":30,"y":0.052},{"c":"g","x":36,"y":0.061},{"c":"g","x":42,"y":0.065},{"c":"g","x":48,"y":0.054},{"c":"g","x":54,"y":0.07},{"c":"g","x":60,"y":0.058},{"c":"g","x":66,"y":0.053},{"c":"g","x":72,"y":0.064},{"c":"g","x":78,"y":0.068},{"c":"g","x":84,"y":0.05},{"c":"g","x":90,"y":0.061},{"c":"g","x":96,"y":0.063},{"c":"g","x":102,"y":0.056},{"c":"g","x":108,"y":0.067},{"c":"g","x":114,"y":0.051},{"c":"g","x":120,"y":0.066},{"c":"g","x":126,"y":0.059},{"c":"g","x":132,"y":0.055},{"c":"g","x":138,"y":0.062},{"c":"g","x":144,"y":0.069},{"c":"g","x":150,"y":0.053},{"c":"g","x":156,"y":0.064},{"c":"g","x":162,"y":0.057},{"c":"g","x":168,"y":0.054},{"c":"g","x":174,"y":0.068},{"c":"g","x":180,"y":0.06},{"c":"g","x":186,"y":0.052},{"c":"g","x":192,"y":0.065},{"c":"g","x":198,"y":0.058},{"c":"g","x":204,"y":0.07},{"c":"g","x":210,"y":0.056},{"c":"g","x":216,"y":0.063},{"c":"g","x":222,"y":0.051},{"c":"g","x":228,"y":0.066},{"c":"g","x":234,"y":0.057},
{"c":"g","x":238,"y":0.067},{"c":"g","x":242,"y":0.059},{"c":"g","x":246,"y":0.077},{"c":"g","x":249,"y":0.077},{"c":"g","x":251,"y":0.091},{"c":"g","x":253,"y":0.103},{"c":"g","x":255,"y":0.128},{"c":"g","x":256,"y":0.146},{"c":"g","x":257,"y":0.171},{"c":"g","x":258,"y":0.19},{"c":"g","x":259,"y":0.167},{"c":"g","x":260,"y":0.141},{"c":"g","x":262,"y":0.113},{"c":"g","x":264,"y":0.099},{"c":"g","x":266,"y":0.079},{"c":"g","x":269,"y":0.074},{"c":"g","x":272,"y":0.057},
{"c":"g","x":276,"y":0.063},{"c":"g","x":282,"y":0.05},{"c":"g","x":288,"y":0.058},{"c":"g","x":294,"y":0.048},{"c":"g","x":300,"y":0.061},{"c":"g","x":306,"y":0.069},{"c":"g","x":312,"y":0.056},{"c":"g","x":318,"y":0.059},{"c":"g","x":324,"y":0.05},{"c":"g","x":330,"y":0.066},{"c":"g","x":336,"y":0.063},{"c":"g","x":342,"y":0.055},{"c":"g","x":348,"y":0.063},{"c":"g","x":354,"y":0.054},{"c":"g","x":360,"y":0.068},{"c":"g","x":366,"y":0.058},{"c":"g","x":372,"y":0.051},{"c":"g","x":378,"y":0.065},{"c":"g","x":384,"y":0.061},{"c":"g","x":390,"y":0.056},{"c":"g","x":396,"y":0.07},{"c":"g","x":402,"y":0.053},{"c":"g","x":408,"y":0.062},{"c":"g","x":414,"y":0.066},{"c":"g","x":420,"y":0.057},{"c":"g","x":426,"y":0.052},{"c":"g","x":432,"y":0.064},{"c":"g","x":438,"y":0.069},{"c":"g","x":444,"y":0.059},{"c":"g","x":450,"y":0.055},{"c":"g","x":456,"y":0.067},{"c":"g","x":462,"y":0.05},{"c":"g","x":468,"y":0.06},{"c":"g","x":474,"y":0.065},{"c":"g","x":480,"y":0.054},{"c":"g","x":486,"y":0.063},{"c":"g","x":492,"y":0.068},{"c":"g","x":498,"y":0.057},{"c":"g","x":504,"y":0.053},{"c":"g","x":510,"y":0.071},{"c":"g","x":516,"y":0.058},{"c":"g","x":522,"y":0.064},{"c":"g","x":528,"y":0.051},{"c":"g","x":534,"y":0.066},{"c":"g","x":540,"y":0.061},{"c":"g","x":546,"y":0.056},{"c":"g","x":552,"y":0.049},{"c":"g","x":558,"y":0.067},{"c":"g","x":564,"y":0.062},{"c":"g","x":570,"y":0.055},{"c":"g","x":576,"y":0.069},{"c":"g","x":582,"y":0.059},{"c":"g","x":588,"y":0.052},{"c":"g","x":594,"y":0.063},{"c":"g","x":600,"y":0.066},
{"c":"g","x":3,"y":0.063},{"c":"g","x":9,"y":0.052},{"c":"g","x":15,"y":0.066},{"c":"g","x":21,"y":0.057},{"c":"g","x":27,"y":0.061},{"c":"g","x":33,"y":0.055},{"c":"g","x":39,"y":0.069},{"c":"g","x":45,"y":0.062},{"c":"g","x":51,"y":0.05},{"c":"g","x":57,"y":0.067},{"c":"g","x":63,"y":0.056},{"c":"g","x":69,"y":0.064},{"c":"g","x":75,"y":0.053},{"c":"g","x":81,"y":0.06},{"c":"g","x":87,"y":0.068},{"c":"g","x":93,"y":0.051},{"c":"g","x":99,"y":0.065},{"c":"g","x":105,"y":0.058},{"c":"g","x":111,"y":0.057},{"c":"g","x":117,"y":0.07},{"c":"g","x":123,"y":0.054},{"c":"g","x":129,"y":0.066},{"c":"g","x":135,"y":0.063},{"c":"g","x":141,"y":0.052},{"c":"g","x":147,"y":0.059},{"c":"g","x":153,"y":0.069},{"c":"g","x":159,"y":0.055},{"c":"g","x":165,"y":0.062},{"c":"g","x":171,"y":0.067},{"c":"g","x":177,"y":0.049},{"c":"g","x":183,"y":0.056},{"c":"g","x":189,"y":0.061},{"c":"g","x":195,"y":0.066},{"c":"g","x":201,"y":0.051},{"c":"g","x":207,"y":0.064},{"c":"g","x":213,"y":0.058},{"c":"g","x":219,"y":0.071},{"c":"g","x":225,"y":0.053},{"c":"g","x":231,"y":0.057},
{"c":"g","x":279,"y":0.064},{"c":"g","x":285,"y":0.059},{"c":"g","x":291,"y":0.05},{"c":"g","x":297,"y":0.061},{"c":"g","x":303,"y":0.056},{"c":"g","x":309,"y":0.05},{"c":"g","x":315,"y":0.067},{"c":"g","x":321,"y":0.055},{"c":"g","x":327,"y":0.059},{"c":"g","x":333,"y":0.069},{"c":"g","x":339,"y":0.064},{"c":"g","x":345,"y":0.052},{"c":"g","x":351,"y":0.057},{"c":"g","x":357,"y":0.066},{"c":"g","x":363,"y":0.062},{"c":"g","x":369,"y":0.053},{"c":"g","x":375,"y":0.07},{"c":"g","x":381,"y":0.056},{"c":"g","x":387,"y":0.061},{"c":"g","x":393,"y":0.065},{"c":"g","x":399,"y":0.051},{"c":"g","x":405,"y":0.058},{"c":"g","x":411,"y":0.068},{"c":"g","x":417,"y":0.054},{"c":"g","x":423,"y":0.063},{"c":"g","x":429,"y":0.055},{"c":"g","x":435,"y":0.063},{"c":"g","x":441,"y":0.066},{"c":"g","x":447,"y":0.05},{"c":"g","x":453,"y":0.059},{"c":"g","x":459,"y":0.056},{"c":"g","x":465,"y":0.069},{"c":"g","x":471,"y":0.065},{"c":"g","x":477,"y":0.052},{"c":"g","x":483,"y":0.062},{"c":"g","x":489,"y":0.054},{"c":"g","x":495,"y":0.067},{"c":"g","x":501,"y":0.057},{"c":"g","x":507,"y":0.066},{"c":"g","x":513,"y":0.051},{"c":"g","x":519,"y":0.063},{"c":"g","x":525,"y":0.056},{"c":"g","x":531,"y":0.07},{"c":"g","x":537,"y":0.058},{"c":"g","x":543,"y":0.065},{"c":"g","x":549,"y":0.052},{"c":"g","x":555,"y":0.06},{"c":"g","x":561,"y":0.068},{"c":"g","x":567,"y":0.054},{"c":"g","x":573,"y":0.057},{"c":"g","x":579,"y":0.064},{"c":"g","x":585,"y":0.053},{"c":"g","x":591,"y":0.069},{"c":"g","x":597,"y":0.062},
{"c":"h","x":0,"y":0.062},{"c":"h","x":6,"y":0.08},{"c":"h","x":12,"y":0.069},{"c":"h","x":18,"y":0.067},{"c":"h","x":24,"y":0.074},{"c":"h","x":30,"y":0.063},{"c":"h","x":36,"y":0.079},{"c":"h","x":42,"y":0.064},{"c":"h","x":48,"y":0.071},{"c":"h","x":54,"y":0.075},{"c":"h","x":60,"y":0.068},{"c":"h","x":66,"y":0.061},{"c":"h","x":72,"y":0.077},{"c":"h","x":78,"y":0.066},{"c":"h","x":84,"y":0.073},{"c":"h","x":90,"y":0.076},{"c":"h","x":96,"y":0.062},{"c":"h","x":102,"y":0.07},{"c":"h","x":108,"y":0.078},{"c":"h","x":114,"y":0.065},{"c":"h","x":120,"y":0.072},{"c":"h","x":126,"y":0.06},{"c":"h","x":132,"y":0.074},{"c":"h","x":138,"y":0.067},{"c":"h","x":144,"y":0.079},{"c":"h","x":150,"y":0.064},{"c":"h","x":156,"y":0.073},{"c":"h","x":162,"y":0.063},{"c":"h","x":168,"y":0.076},{"c":"h","x":174,"y":0.068},{"c":"h","x":180,"y":0.078},{"c":"h","x":186,"y":0.065},{"c":"h","x":192,"y":0.061},{"c":"h","x":198,"y":0.074},{"c":"h","x":204,"y":0.071},{"c":"h","x":210,"y":0.08},{"c":"h","x":216,"y":0.064},{"c":"h","x":222,"y":0.067},{"c":"h","x":228,"y":0.075},{"c":"h","x":234,"y":0.067},
{"c":"h","x":238,"y":0.073},{"c":"h","x":242,"y":0.086},{"c":"h","x":246,"y":0.092},{"c":"h","x":249,"y":0.116},{"c":"h","x":251,"y":0.133},{"c":"h","x":253,"y":0.164},{"c":"h","x":255,"y":0.218},{"c":"h","x":256,"y":0.258},{"c":"h","x":257,"y":0.312},{"c":"h","x":258,"y":0.355},{"c":"h","x":259,"y":0.304},{"c":"h","x":260,"y":0.247},{"c":"h","x":262,"y":0.19},{"c":"h","x":264,"y":0.147},{"c":"h","x":266,"y":0.118},{"c":"h","x":269,"y":0.097},{"c":"h","x":272,"y":0.072},
{"c":"h","x":276,"y":0.072},{"c":"h","x":282,"y":0.058},{"c":"h","x":288,"y":0.068},{"c":"h","x":294,"y":0.075},{"c":"h","x":300,"y":0.061},{"c":"h","x":306,"y":0.069},{"c":"h","x":312,"y":0.074},{"c":"h","x":318,"y":0.06},{"c":"h","x":324,"y":0.077},{"c":"h","x":330,"y":0.068},{"c":"h","x":336,"y":0.064},{"c":"h","x":342,"y":0.073},{"c":"h","x":348,"y":0.078},{"c":"h","x":354,"y":0.066},{"c":"h","x":360,"y":0.061},{"c":"h","x":366,"y":0.071},{"c":"h","x":372,"y":0.075},{"c":"h","x":378,"y":0.063},{"c":"h","x":384,"y":0.08},{"c":"h","x":390,"y":0.07},{"c":"h","x":396,"y":0.065},{"c":"h","x":402,"y":0.076},{"c":"h","x":408,"y":0.067},{"c":"h","x":414,"y":0.062},{"c":"h","x":420,"y":0.073},{"c":"h","x":426,"y":0.077},{"c":"h","x":432,"y":0.059},{"c":"h","x":438,"y":0.072},{"c":"h","x":444,"y":0.066},{"c":"h","x":450,"y":0.079},{"c":"h","x":456,"y":0.064},{"c":"h","x":462,"y":0.069},{"c":"h","x":468,"y":0.074},{"c":"h","x":474,"y":0.081},{"c":"h","x":480,"y":0.063},{"c":"h","x":486,"y":0.068},{"c":"h","x":492,"y":0.075},{"c":"h","x":498,"y":0.061},{"c":"h","x":504,"y":0.071},{"c":"h","x":510,"y":0.078},{"c":"h","x":516,"y":0.067},{"c":"h","x":522,"y":0.064},{"c":"h","x":528,"y":0.076},{"c":"h","x":534,"y":0.06},{"c":"h","x":540,"y":0.073},{"c":"h","x":546,"y":0.072},{"c":"h","x":552,"y":0.065},{"c":"h","x":558,"y":0.079},{"c":"h","x":564,"y":0.062},{"c":"h","x":570,"y":0.07},{"c":"h","x":576,"y":0.077},{"c":"h","x":582,"y":0.066},{"c":"h","x":588,"y":0.074},{"c":"h","x":594,"y":0.063},{"c":"h","x":600,"y":0.08},
{"c":"h","x":3,"y":0.074},{"c":"h","x":9,"y":0.063},{"c":"h","x":15,"y":0.07},{"c":"h","x":21,"y":0.078},{"c":"h","x":27,"y":0.061},{"c":"h","x":33,"y":0.075},{"c":"h","x":39,"y":0.068},{"c":"h","x":45,"y":0.067},{"c":"h","x":51,"y":0.08},{"c":"h","x":57,"y":0.064},{"c":"h","x":63,"y":0.076},{"c":"h","x":69,"y":0.073},{"c":"h","x":75,"y":0.062},{"c":"h","x":81,"y":0.069},{"c":"h","x":87,"y":0.079},{"c":"h","x":93,"y":0.065},{"c":"h","x":99,"y":0.072},{"c":"h","x":105,"y":0.077},{"c":"h","x":111,"y":0.059},{"c":"h","x":117,"y":0.066},{"c":"h","x":123,"y":0.071},{"c":"h","x":129,"y":0.076},{"c":"h","x":135,"y":0.061},{"c":"h","x":141,"y":0.074},{"c":"h","x":147,"y":0.068},{"c":"h","x":153,"y":0.081},{"c":"h","x":159,"y":0.063},{"c":"h","x":165,"y":0.067},{"c":"h","x":171,"y":0.078},{"c":"h","x":177,"y":0.073},{"c":"h","x":183,"y":0.064},{"c":"h","x":189,"y":0.075},{"c":"h","x":195,"y":0.07},{"c":"h","x":201,"y":0.06},{"c":"h","x":207,"y":0.077},{"c":"h","x":213,"y":0.065},{"c":"h","x":219,"y":0.069},{"c":"h","x":225,"y":0.079},{"c":"h","x":231,"y":0.074},
{"c":"h","x":279,"y":0.058},{"c":"h","x":285,"y":0.063},{"c":"h","x":291,"y":0.072},{"c":"h","x":297,"y":0.068},{"c":"h","x":303,"y":0.059},{"c":"h","x":309,"y":0.08},{"c":"h","x":315,"y":0.066},{"c":"h","x":321,"y":0.071},{"c":"h","x":327,"y":0.075},{"c":"h","x":333,"y":0.061},{"c":"h","x":339,"y":0.068},{"c":"h","x":345,"y":0.078},{"c":"h","x":351,"y":0.064},{"c":"h","x":357,"y":0.073},{"c":"h","x":363,"y":0.065},{"c":"h","x":369,"y":0.073},{"c":"h","x":375,"y":0.076},{"c":"h","x":381,"y":0.06},{"c":"h","x":387,"y":0.069},{"c":"h","x":393,"y":0.066},{"c":"h","x":399,"y":0.079},{"c":"h","x":405,"y":0.075},{"c":"h","x":411,"y":0.062},{"c":"h","x":417,"y":0.072},{"c":"h","x":423,"y":0.064},{"c":"h","x":429,"y":0.077},{"c":"h","x":435,"y":0.067},{"c":"h","x":441,"y":0.076},{"c":"h","x":447,"y":0.061},{"c":"h","x":453,"y":0.073},{"c":"h","x":459,"y":0.066},{"c":"h","x":465,"y":0.08},{"c":"h","x":471,"y":0.068},{"c":"h","x":477,"y":0.075},{"c":"h","x":483,"y":0.062},{"c":"h","x":489,"y":0.07},{"c":"h","x":495,"y":0.078},{"c":"h","x":501,"y":0.064},{"c":"h","x":507,"y":0.067},{"c":"h","x":513,"y":0.074},{"c":"h","x":519,"y":0.063},{"c":"h","x":525,"y":0.079},{"c":"h","x":531,"y":0.072},{"c":"h","x":537,"y":0.065},{"c":"h","x":543,"y":0.069},{"c":"h","x":549,"y":0.076},{"c":"h","x":555,"y":0.061},{"c":"h","x":561,"y":0.077},{"c":"h","x":567,"y":0.066},{"c":"h","x":573,"y":0.073},{"c":"h","x":579,"y":0.071},{"c":"h","x":585,"y":0.06},{"c":"h","x":591,"y":0.078},{"c":"h","x":597,"y":0.074},
{"c":"i","x":0,"y":0.084},{"c":"i","x":6,"y":0.077},{"c":"i","x":12,"y":0.074},{"c":"i","x":18,"y":0.088},{"c":"i","x":24,"y":0.08},{"c":"i","x":30,"y":0.072},{"c":"i","x":36,"y":0.085},{"c":"i","x":42,"y":0.078},{"c":"i","x":48,"y":0.09},{"c":"i","x":54,"y":0.076},{"c":"i","x":60,"y":0.083},{"c":"i","x":66,"y":0.071},{"c":"i","x":72,"y":0.086},{"c":"i","x":78,"y":0.077},{"c":"i","x":84,"y":0.087},{"c":"i","x":90,"y":0.074},{"c":"i","x":96,"y":0.082},{"c":"i","x":102,"y":0.072},{"c":"i","x":108,"y":0.085},{"c":"i","x":114,"y":0.089},{"c":"i","x":120,"y":0.076},{"c":"i","x":126,"y":0.079},{"c":"i","x":132,"y":0.07},{"c":"i","x":138,"y":0.086},{"c":"i","x":144,"y":0.083},{"c":"i","x":150,"y":0.075},{"c":"i","x":156,"y":0.083},{"c":"i","x":162,"y":0.074},{"c":"i","x":168,"y":0.088},{"c":"i","x":174,"y":0.078},{"c":"i","x":180,"y":0.071},{"c":"i","x":186,"y":0.085},{"c":"i","x":192,"y":0.081},{"c":"i","x":198,"y":0.076},{"c":"i","x":204,"y":0.09},{"c":"i","x":210,"y":0.073},{"c":"i","x":216,"y":0.082},{"c":"i","x":222,"y":0.086},{"c":"i","x":228,"y":0.077},{"c":"i","x":234,"y":0.072},
{"c":"i","x":238,"y":0.088},{"c":"i","x":242,"y":0.082},{"c":"i","x":246,"y":0.099},{"c":"i","x":249,"y":0.099},{"c":"i","x":251,"y":0.114},{"c":"i","x":253,"y":0.126},{"c":"i","x":255,"y":0.153},{"c":"i","x":256,"y":0.172},{"c":"i","x":257,"y":0.199},{"c":"i","x":258,"y":0.22},{"c":"i","x":259,"y":0.195},{"c":"i","x":260,"y":0.167},{"c":"i","x":262,"y":0.141},{"c":"i","x":264,"y":0.116},{"c":"i","x":266,"y":0.1},{"c":"i","x":269,"y":0.094},{"c":"i","x":272,"y":0.079},
{"c":"i","x":276,"y":0.08},{"c":"i","x":282,"y":0.085},{"c":"i","x":288,"y":0.075},{"c":"i","x":294,"y":0.071},{"c":"i","x":300,"y":0.083},{"c":"i","x":306,"y":0.07},{"c":"i","x":312,"y":0.08},{"c":"i","x":318,"y":0.085},{"c":"i","x":324,"y":0.074},{"c":"i","x":330,"y":0.083},{"c":"i","x":336,"y":0.088},{"c":"i","x":342,"y":0.077},{"c":"i","x":348,"y":0.073},{"c":"i","x":354,"y":0.091},{"c":"i","x":360,"y":0.078},{"c":"i","x":366,"y":0.084},{"c":"i","x":372,"y":0.071},{"c":"i","x":378,"y":0.086},{"c":"i","x":384,"y":0.081},{"c":"i","x":390,"y":0.076},{"c":"i","x":396,"y":0.069},{"c":"i","x":402,"y":0.087},{"c":"i","x":408,"y":0.082},{"c":"i","x":414,"y":0.075},{"c":"i","x":420,"y":0.089},{"c":"i","x":426,"y":0.079},{"c":"i","x":432,"y":0.072},{"c":"i","x":438,"y":0.083},{"c":"i","x":444,"y":0.086},{"c":"i","x":450,"y":0.074},{"c":"i","x":456,"y":0.09},{"c":"i","x":462,"y":0.077},{"c":"i","x":468,"y":0.078},{"c":"i","x":474,"y":0.085},{"c":"i","x":480,"y":0.071},{"c":"i","x":486,"y":0.088},{"c":"i","x":492,"y":0.08},{"c":"i","x":498,"y":0.073},{"c":"i","x":504,"y":0.084},{"c":"i","x":510,"y":0.076},{"c":"i","x":516,"y":0.087},{"c":"i","x":522,"y":0.07},{"c":"i","x":528,"y":0.082},{"c":"i","x":534,"y":0.089},{"c":"i","x":540,"y":0.075},{"c":"i","x":546,"y":0.081},{"c":"i","x":552,"y":0.077},{"c":"i","x":558,"y":0.086},{"c":"i","x":564,"y":0.072},{"c":"i","x":570,"y":0.083},{"c":"i","x":576,"y":0.091},{"c":"i","x":582,"y":0.074},{"c":"i","x":588,"y":0.079},{"c":"i","x":594,"y":0.084},{"c":"i","x":600,"y":0.073},
{"c":"i","x":3,"y":0.083},{"c":"i","x":9,"y":0.072},{"c":"i","x":15,"y":0.079},{"c":"i","x":21,"y":0.089},{"c":"i","x":27,"y":0.075},{"c":"i","x":33,"y":0.082},{"c":"i","x":39,"y":0.087},{"c":"i","x":45,"y":0.069},{"c":"i","x":51,"y":0.076},{"c":"i","x":57,"y":0.081},{"c":"i","x":63,"y":0.086},{"c":"i","x":69,"y":0.071},{"c":"i","x":75,"y":0.084},{"c":"i","x":81,"y":0.078},{"c":"i","x":87,"y":0.091},{"c":"i","x":93,"y":0.073},{"c":"i","x":99,"y":0.077},{"c":"i","x":105,"y":0.088},{"c":"i","x":111,"y":0.083},{"c":"i","x":117,"y":0.074},{"c":"i","x":123,"y":0.085},{"c":"i","x":129,"y":0.08},{"c":"i","x":135,"y":0.07},{"c":"i","x":141,"y":0.087},{"c":"i","x":147,"y":0.075},{"c":"i","x":153,"y":0.079},{"c":"i","x":159,"y":0.089},{"c":"i","x":165,"y":0.084},{"c":"i","x":171,"y":0.072},{"c":"i","x":177,"y":0.077},{"c":"i","x":183,"y":0.086},{"c":"i","x":189,"y":0.082},{"c":"i","x":195,"y":0.073},{"c":"i","x":201,"y":0.09},{"c":"i","x":207,"y":0.076},{"c":"i","x":213,"y":0.081},{"c":"i","x":219,"y":0.085},{"c":"i","x":225,"y":0.071},{"c":"i","x":231,"y":0.078},
{"c":"i","x":279,"y":0.084},{"c":"i","x":285,"y":0.07},{"c":"i","x":291,"y":0.079},{"c":"i","x":297,"y":0.071},{"c":"i","x":303,"y":0.079},{"c":"i","x":309,"y":0.086},{"c":"i","x":315,"y":0.07},{"c":"i","x":321,"y":0.079},{"c":"i","x":327,"y":0.076},{"c":"i","x":333,"y":0.089},{"c":"i","x":339,"y":0.085},{"c":"i","x":345,"y":0.072},{"c":"i","x":351,"y":0.082},{"c":"i","x":357,"y":0.074},{"c":"i","x":363,"y":0.087},{"c":"i","x":369,"y":0.077},{"c":"i","x":375,"y":0.086},{"c":"i","x":381,"y":0.071},{"c":"i","x":387,"y":0.083},{"c":"i","x":393,"y":0.076},{"c":"i","x":399,"y":0.09},{"c":"i","x":405,"y":0.078},{"c":"i","x":411,"y":0.085},{"c":"i","x":417,"y":0.072},{"c":"i","x":423,"y":0.08},{"c":"i","x":429,"y":0.088},{"c":"i","x":435,"y":0.074},{"c":"i","x":441,"y":0.077},{"c":"i","x":447,"y":0.084},{"c":"i","x":453,"y":0.073},{"c":"i","x":459,"y":0.089},{"c":"i","x":465,"y":0.082},{"c":"i","x":471,"y":0.075},{"c":"i","x":477,"y":0.079},{"c":"i","x":483,"y":0.086},{"c":"i","x":489,"y":0.071},{"c":"i","x":495,"y":0.087},{"c":"i","x":501,"y":0.076},{"c":"i","x":507,"y":0.083},{"c":"i","x":513,"y":0.081},{"c":"i","x":519,"y":0.07},{"c":"i","x":525,"y":0.088},{"c":"i","x":531,"y":0.084},{"c":"i","x":537,"y":0.073},{"c":"i","x":543,"y":0.078},{"c":"i","x":549,"y":0.09},{"c":"i","x":555,"y":0.074},{"c":"i","x":561,"y":0.085},{"c":"i","x":567,"y":0.081},{"c":"i","x":573,"y":0.072},{"c":"i","x":579,"y":0.077},{"c":"i","x":585,"y":0.089},{"c":"i","x":591,"y":0.075},{"c":"i","x":597,"y":0.086},
{"c":"j","x":0,"y":0.094},{"c":"j","x":6,"y":0.084},{"c":"j","x":12,"y":0.097},{"c":"j","x":18,"y":0.089},{"c":"j","x":24,"y":0.099},{"c":"j","x":30,"y":0.108},{"c":"j","x":36,"y":0.082},{"c":"j","x":42,"y":0.095},{"c":"j","x":48,"y":0.092},{"c":"j","x":54,"y":0.101},{"c":"j","x":60,"y":0.085},{"c":"j","x":66,"y":0.088},{"c":"j","x":72,"y":0.096},{"c":"j","x":78,"y":0.088},{"c":"j","x":84,"y":0.097},{"c":"j","x":90,"y":0.083},{"c":"j","x":96,"y":0.093},{"c":"j","x":102,"y":0.1},{"c":"j","x":108,"y":0.086},{"c":"j","x":114,"y":0.09},{"c":"j","x":120,"y":0.095},{"c":"j","x":126,"y":0.081},{"c":"j","x":132,"y":0.11},{"c":"j","x":138,"y":0.089},{"c":"j","x":144,"y":0.085},{"c":"j","x":150,"y":0.094},{"c":"j","x":156,"y":0.099},{"c":"j","x":162,"y":0.087},{"c":"j","x":168,"y":0.082},{"c":"j","x":174,"y":0.092},{"c":"j","x":180,"y":0.096},{"c":"j","x":186,"y":0.084},{"c":"j","x":192,"y":0.101},{"c":"j","x":198,"y":0.091},{"c":"j","x":204,"y":0.086},{"c":"j","x":210,"y":0.097},{"c":"j","x":216,"y":0.088},{"c":"j","x":222,"y":0.083},{"c":"j","x":228,"y":0.094},{"c":"j","x":234,"y":0.098},
{"c":"j","x":238,"y":0.1},{"c":"j","x":242,"y":0.092},{"c":"j","x":246,"y":0.109},{"c":"j","x":249,"y":0.117},{"c":"j","x":251,"y":0.126},{"c":"j","x":253,"y":0.143},{"c":"j","x":255,"y":0.174},{"c":"j","x":256,"y":0.196},{"c":"j","x":257,"y":0.226},{"c":"j","x":258,"y":0.25},{"c":"j","x":259,"y":0.221},{"c":"j","x":260,"y":0.19},{"c":"j","x":262,"y":0.156},{"c":"j","x":264,"y":0.139},{"c":"j","x":266,"y":0.117},{"c":"j","x":269,"y":0.098},{"c":"j","x":272,"y":0.089},
{"c":"j","x":276,"y":0.076},{"c":"j","x":282,"y":0.089},{"c":"j","x":288,"y":0.083},{"c":"j","x":294,"y":0.096},{"c":"j","x":300,"y":0.081},{"c":"j","x":306,"y":0.09},{"c":"j","x":312,"y":0.095},{"c":"j","x":318,"y":0.102},{"c":"j","x":324,"y":0.084},{"c":"j","x":330,"y":0.089},{"c":"j","x":336,"y":0.096},{"c":"j","x":342,"y":0.082},{"c":"j","x":348,"y":0.092},{"c":"j","x":354,"y":0.099},{"c":"j","x":360,"y":0.088},{"c":"j","x":366,"y":0.085},{"c":"j","x":372,"y":0.097},{"c":"j","x":378,"y":0.081},{"c":"j","x":384,"y":0.094},{"c":"j","x":390,"y":0.093},{"c":"j","x":396,"y":0.086},{"c":"j","x":402,"y":0.1},{"c":"j","x":408,"y":0.083},{"c":"j","x":414,"y":0.091},{"c":"j","x":420,"y":0.098},{"c":"j","x":426,"y":0.087},{"c":"j","x":432,"y":0.095},{"c":"j","x":438,"y":0.084},{"c":"j","x":444,"y":0.101},{"c":"j","x":450,"y":0.089},{"c":"j","x":456,"y":0.082},{"c":"j","x":462,"y":0.096},{"c":"j","x":468,"y":0.09},{"c":"j","x":474,"y":0.094},{"c":"j","x":480,"y":0.085},{"c":"j","x":486,"y":0.099},{"c":"j","x":492,"y":0.088},{"c":"j","x":498,"y":0.08},{"c":"j","x":504,"y":0.097},{"c":"j","x":510,"y":0.092},{"c":"j","x":516,"y":0.087},{"c":"j","x":522,"y":0.098},{"c":"j","x":528,"y":0.083},{"c":"j","x":534,"y":0.11},{"c":"j","x":540,"y":0.1},{"c":"j","x":546,"y":0.086},{"c":"j","x":552,"y":0.089},{"c":"j","x":558,"y":0.095},{"c":"j","x":564,"y":0.084},{"c":"j","x":570,"y":0.102},{"c":"j","x":576,"y":0.088},{"c":"j","x":582,"y":0.091},{"c":"j","x":588,"y":0.085},{"c":"j","x":594,"y":0.096},{"c":"j","x":600,"y":0.082},
{"c":"j","x":3,"y":0.082},{"c":"j","x":9,"y":0.095},{"c":"j","x":15,"y":0.089},{"c":"j","x":21,"y":0.102},{"c":"j","x":27,"y":0.084},{"c":"j","x":33,"y":0.088},{"c":"j","x":39,"y":0.099},{"c":"j","x":45,"y":0.094},{"c":"j","x":51,"y":0.085},{"c":"j","x":57,"y":0.096},{"c":"j","x":63,"y":0.091},{"c":"j","x":69,"y":0.081},{"c":"j","x":75,"y":0.098},{"c":"j","x":81,"y":0.086},{"c":"j","x":87,"y":0.09},{"c":"j","x":93,"y":0.1},{"c":"j","x":99,"y":0.095},{"c":"j","x":105,"y":0.083},{"c":"j","x":111,"y":0.088},{"c":"j","x":117,"y":0.097},{"c":"j","x":123,"y":0.093},{"c":"j","x":129,"y":0.084},{"c":"j","x":135,"y":0.101},{"c":"j","x":141,"y":0.087},{"c":"j","x":147,"y":0.092},{"c":"j","x":153,"y":0.096},{"c":"j","x":159,"y":0.082},{"c":"j","x":165,"y":0.089},{"c":"j","x":171,"y":0.099},{"c":"j","x":177,"y":0.085},{"c":"j","x":183,"y":0.094},{"c":"j","x":189,"y":0.086},{"c":"j","x":195,"y":0.094},{"c":"j","x":201,"y":0.097},{"c":"j","x":207,"y":0.081},{"c":"j","x":213,"y":0.09},{"c":"j","x":219,"y":0.087},{"c":"j","x":225,"y":0.1},{"c":"j","x":231,"y":0.096},
{"c":"j","x":279,"y":0.079},{"c":"j","x":285,"y":0.089},{"c":"j","x":291,"y":0.081},{"c":"j","x":297,"y":0.094},{"c":"j","x":303,"y":0.084},{"c":"j","x":309,"y":0.097},{"c":"j","x":315,"y":0.082},{"c":"j","x":321,"y":0.094},{"c":"j","x":327,"y":0.087},{"c":"j","x":333,"y":0.101},{"c":"j","x":339,"y":0.089},{"c":"j","x":345,"y":0.096},{"c":"j","x":351,"y":0.083},{"c":"j","x":357,"y":0.091},{"c":"j","x":363,"y":0.099},{"c":"j","x":369,"y":0.085},{"c":"j","x":375,"y":0.088},{"c":"j","x":381,"y":0.095},{"c":"j","x":387,"y":0.084},{"c":"j","x":393,"y":0.1},{"c":"j","x":399,"y":0.093},{"c":"j","x":405,"y":0.086},{"c":"j","x":411,"y":0.09},{"c":"j","x":417,"y":0.097},{"c":"j","x":423,"y":0.082},{"c":"j","x":429,"y":0.098},{"c":"j","x":435,"y":0.087},{"c":"j","x":441,"y":0.094},{"c":"j","x":447,"y":0.092},{"c":"j","x":453,"y":0.081},{"c":"j","x":459,"y":0.099},{"c":"j","x":465,"y":0.095},{"c":"j","x":471,"y":0.084},{"c":"j","x":477,"y":0.089},{"c":"j","x":483,"y":0.101},{"c":"j","x":489,"y":0.085},{"c":"j","x":495,"y":0.096},{"c":"j","x":501,"y":0.092},{"c":"j","x":507,"y":0.083},{"c":"j","x":513,"y":0.088},{"c":"j","x":519,"y":0.1},{"c":"j","x":525,"y":0.086},{"c":"j","x":531,"y":0.097},{"c":"j","x":537,"y":0.091},{"c":"j","x":543,"y":0.094},{"c":"j","x":549,"y":0.08},{"c":"j","x":555,"y":0.098},{"c":"j","x":561,"y":0.087},{"c":"j","x":567,"y":0.093},{"c":"j","x":573,"y":0.096},{"c":"j","x":579,"y":0.082},{"c":"j","x":585,"y":0.089},{"c":"j","x":591,"y":0.099},{"c":"j","x":597,"y":0.084},
{"c":"k","x":0,"y":0.101},{"c":"k","x":6,"y":0.104},{"c":"k","x":12,"y":0.1},{"c":"k","x":18,"y":0.103},{"c":"k","x":24,"y":0.105},{"c":"k","x":30,"y":0.1},{"c":"k","x":36,"y":0.102},{"c":"k","x":42,"y":0.103},{"c":"k","x":48,"y":0.1},{"c":"k","x":54,"y":0.104},{"c":"k","x":60,"y":0.101},{"c":"k","x":66,"y":0.099},{"c":"k","x":72,"y":0.104},{"c":"k","x":78,"y":0.103},{"c":"k","x":84,"y":0.101},{"c":"k","x":90,"y":0.104},{"c":"k","x":96,"y":0.099},{"c":"k","x":102,"y":0.103},{"c":"k","x":108,"y":0.102},{"c":"k","x":114,"y":0.104},{"c":"k","x":120,"y":0.1},{"c":"k","x":126,"y":0.105},{"c":"k","x":132,"y":0.101},{"c":"k","x":138,"y":0.1},{"c":"k","x":144,"y":0.102},{"c":"k","x":150,"y":0.104},{"c":"k","x":156,"y":0.1},{"c":"k","x":162,"y":0.105},{"c":"k","x":168,"y":0.101},{"c":"k","x":174,"y":0.1},{"c":"k","x":180,"y":0.103},{"c":"k","x":186,"y":0.104},{"c":"k","x":192,"y":0.099},{"c":"k","x":198,"y":0.102},{"c":"k","x":204,"y":0.103},{"c":"k","x":210,"y":0.101},{"c":"k","x":216,"y":0.104},{"c":"k","x":222,"y":0.099},{"c":"k","x":228,"y":0.104},{"c":"k","x":234,"y":0.102},
{"c":"k","x":238,"y":0.105},{"c":"k","x":242,"y":0.108},{"c":"k","x":246,"y":0.115},{"c":"k","x":249,"y":0.123},{"c":"k","x":251,"y":0.133},{"c":"k","x":253,"y":0.149},{"c":"k","x":255,"y":0.176},{"c":"k","x":256,"y":0.196},{"c":"k","x":257,"y":0.224},{"c":"k","x":258,"y":0.245},{"c":"k","x":259,"y":0.219},{"c":"k","x":260,"y":0.191},{"c":"k","x":262,"y":0.162},{"c":"k","x":264,"y":0.142},{"c":"k","x":266,"y":0.128},{"c":"k","x":269,"y":0.12},{"c":"k","x":272,"y":0.117},
{"c":"k","x":276,"y":0.117},{"c":"k","x":282,"y":0.108},{"c":"k","x":288,"y":0.104},{"c":"k","x":294,"y":0.1},{"c":"k","x":300,"y":0.103},{"c":"k","x":306,"y":0.101},{"c":"k","x":312,"y":0.1},{"c":"k","x":318,"y":0.104},{"c":"k","x":324,"y":0.102},{"c":"k","x":330,"y":0.1},{"c":"k","x":336,"y":0.104},{"c":"k","x":342,"y":0.101},{"c":"k","x":348,"y":0.105},{"c":"k","x":354,"y":0.101},{"c":"k","x":360,"y":0.103},{"c":"k","x":366,"y":0.099},{"c":"k","x":372,"y":0.104},{"c":"k","x":378,"y":0.101},{"c":"k","x":384,"y":0.104},{"c":"k","x":390,"y":0.1},{"c":"k","x":396,"y":0.103},{"c":"k","x":402,"y":0.1},{"c":"k","x":408,"y":0.104},{"c":"k","x":414,"y":0.105},{"c":"k","x":420,"y":0.101},{"c":"k","x":426,"y":0.102},{"c":"k","x":432,"y":0.099},{"c":"k","x":438,"y":0.104},{"c":"k","x":444,"y":0.103},{"c":"k","x":450,"y":0.1},{"c":"k","x":456,"y":0.103},{"c":"k","x":462,"y":0.1},{"c":"k","x":468,"y":0.104},{"c":"k","x":474,"y":0.101},{"c":"k","x":480,"y":0.099},{"c":"k","x":486,"y":0.104},{"c":"k","x":492,"y":0.102},{"c":"k","x":498,"y":0.101},{"c":"k","x":504,"y":0.105},{"c":"k","x":510,"y":0.1},{"c":"k","x":516,"y":0.103},{"c":"k","x":522,"y":0.104},{"c":"k","x":528,"y":0.101},{"c":"k","x":534,"y":0.1},{"c":"k","x":540,"y":0.103},{"c":"k","x":546,"y":0.105},{"c":"k","x":552,"y":0.102},{"c":"k","x":558,"y":0.1},{"c":"k","x":564,"y":0.104},{"c":"k","x":570,"y":0.099},{"c":"k","x":576,"y":0.102},{"c":"k","x":582,"y":0.104},{"c":"k","x":588,"y":0.1},{"c":"k","x":594,"y":0.103},{"c":"k","x":600,"y":0.104},
{"c":"k","x":3,"y":0.099},{"c":"k","x":9,"y":0.104},{"c":"k","x":15,"y":0.1},{"c":"k","x":21,"y":0.102},{"c":"k","x":27,"y":0.105},{"c":"k","x":33,"y":0.103},{"c":"k","x":39,"y":0.1},{"c":"k","x":45,"y":0.101},{"c":"k","x":51,"y":0.104},{"c":"k","x":57,"y":0.103},{"c":"k","x":63,"y":0.1},{"c":"k","x":69,"y":0.105},{"c":"k","x":75,"y":0.101},{"c":"k","x":81,"y":0.102},{"c":"k","x":87,"y":0.104},{"c":"k","x":93,"y":0.099},{"c":"k","x":99,"y":0.101},{"c":"k","x":105,"y":0.104},{"c":"k","x":111,"y":0.1},{"c":"k","x":117,"y":0.103},{"c":"k","x":123,"y":0.1},{"c":"k","x":129,"y":0.103},{"c":"k","x":135,"y":0.104},{"c":"k","x":141,"y":0.099},{"c":"k","x":147,"y":0.102},{"c":"k","x":153,"y":0.101},{"c":"k","x":159,"y":0.105},{"c":"k","x":165,"y":0.104},{"c":"k","x":171,"y":0.1},{"c":"k","x":177,"y":0.103},{"c":"k","x":183,"y":0.1},{"c":"k","x":189,"y":0.104},{"c":"k","x":195,"y":0.101},{"c":"k","x":201,"y":0.104},{"c":"k","x":207,"y":0.099},{"c":"k","x":213,"y":0.103},{"c":"k","x":219,"y":0.101},{"c":"k","x":225,"y":0.105},{"c":"k","x":231,"y":0.101},
{"c":"k","x":279,"y":0.114},{"c":"k","x":285,"y":0.106},{"c":"k","x":291,"y":0.102},{"c":"k","x":297,"y":0.104},{"c":"k","x":303,"y":0.1},{"c":"k","x":309,"y":0.101},{"c":"k","x":315,"y":0.103},{"c":"k","x":321,"y":0.1},{"c":"k","x":327,"y":0.105},{"c":"k","x":333,"y":0.103},{"c":"k","x":339,"y":0.1},{"c":"k","x":345,"y":0.102},{"c":"k","x":351,"y":0.104},{"c":"k","x":357,"y":0.099},{"c":"k","x":363,"y":0.104},{"c":"k","x":369,"y":0.101},{"c":"k","x":375,"y":0.103},{"c":"k","x":381,"y":0.102},{"c":"k","x":387,"y":0.099},{"c":"k","x":393,"y":0.104},{"c":"k","x":399,"y":0.103},{"c":"k","x":405,"y":0.1},{"c":"k","x":411,"y":0.101},{"c":"k","x":417,"y":0.105},{"c":"k","x":423,"y":0.1},{"c":"k","x":429,"y":0.104},{"c":"k","x":435,"y":0.102},{"c":"k","x":441,"y":0.1},{"c":"k","x":447,"y":0.101},{"c":"k","x":453,"y":0.105},{"c":"k","x":459,"y":0.1},{"c":"k","x":465,"y":0.104},{"c":"k","x":471,"y":0.102},{"c":"k","x":477,"y":0.103},{"c":"k","x":483,"y":0.099},{"c":"k","x":489,"y":0.104},{"c":"k","x":495,"y":0.101},{"c":"k","x":501,"y":0.103},{"c":"k","x":507,"y":0.104},{"c":"k","x":513,"y":0.099},{"c":"k","x":519,"y":0.101},{"c":"k","x":525,"y":0.104},{"c":"k","x":531,"y":0.1},{"c":"k","x":537,"y":0.103},{"c":"k","x":543,"y":0.102},{"c":"k","x":549,"y":0.1},{"c":"k","x":555,"y":0.105},{"c":"k","x":561,"y":0.103},{"c":"k","x":567,"y":0.1},{"c":"k","x":573,"y":0.104},{"c":"k","x":579,"y":0.101},{"c":"k","x":585,"y":0.102},{"c":"k","x":591,"y":0.1},{"c":"k","x":597,"y":0.105}
]},
"layer": [
{
"mark": {"type": "line", "strokeWidth": 1, "interpolate": "linear"},
"encoding": {
"x": {"field": "x", "type": "quantitative", "scale": {"domain": [0, 600], "nice": false, "zero": false}, "axis": {"values": [0, 100, 200, 300, 400, 500, 600], "format": "d", "title": "Period Time [bins]", "labelPadding": 8, "titlePadding": 8, "labelFlush": false}},
"y": {"field": "y", "type": "quantitative", "scale": {"domain": [-0.05, 0.4], "nice": false, "zero": false}, "axis": {"values": [-0.05, 0, 0.05, 0.1, 0.15, 0.2, 0.25, 0.3, 0.35, 0.4], "format": ".2f", "title": "Intensity", "labelPadding": 10, "titlePadding": 4}},
"color": {"field": "c", "type": "nominal", "scale": {"domain": ["a","b","c","d","e","f","g","h","i","j","k"], "range": ["#0000ff","#008000","#ff0000","#00bfbf","#bf00bf","#bfbf00","#000000","#0000ff","#008000","#ff0000","#00bfbf"]}, "legend": null}
}
},
{
"data": {"values": [{"x": 0, "y": 0}]},
"mark": {"type": "point", "opacity": 0},
"encoding": {
"x": {"field": "x", "type": "quantitative", "axis": {"orient": "top", "labels": false, "title": null, "values": [0, 100, 200, 300, 400, 500, 600]}},
"y": {"field": "y", "type": "quantitative", "axis": {"orient": "right", "labels": false, "title": null, "values": [-0.05, 0, 0.05, 0.1, 0.15, 0.2, 0.25, 0.3, 0.35, 0.4]}}
}
}
],
"resolve": {"axis": {"x": "independent", "y": "independent"}}
}
